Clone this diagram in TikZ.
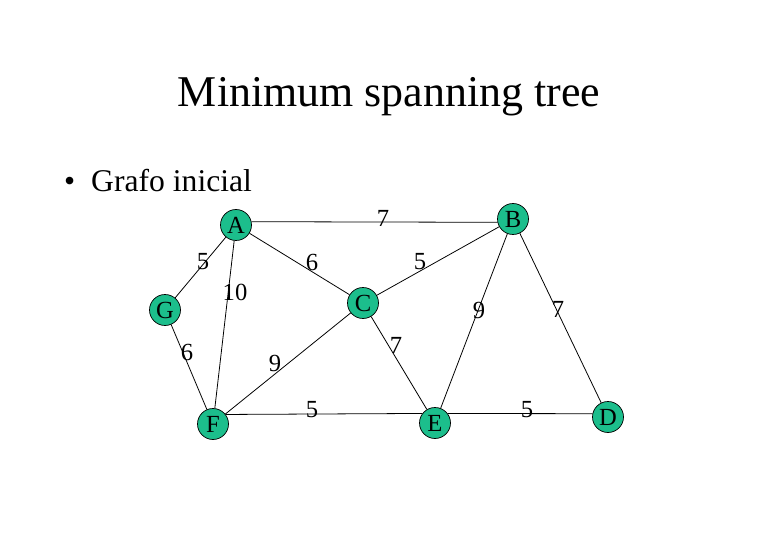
\documentclass[tikz,border=0pt]{standalone}
\usepackage{fontspec}
\setmainfont{Liberation Serif}
\usetikzlibrary{positioning}
\definecolor{vertgreen}{RGB}{28,190,140}

\begin{document}
\begin{tikzpicture}[x=0.02cm,y=-0.02cm,
  vert/.style={circle,draw,fill=vertgreen,minimum size=0.62cm,inner sep=0pt,font=\fontsize{14}{14}\selectfont},
  wt/.style={inner sep=0pt,font=\fontsize{14}{14}\selectfont},
  edge/.style={line width=0.45pt}]
\useasboundingbox (0,0) rectangle (780,540);
\node[font=\fontsize{25}{30}\selectfont] (title) at (389,97) {Minimum spanning tree};
\node[anchor=west,font=\fontsize{18}{22}\selectfont] (item) at (58,181) {\textbullet\hspace{0.32cm}Grafo inicial};
% vertices
\node[vert] (A) at (236,225) {A};
\node[vert] (B) at (513,219) {B};
\node[vert] (C) at (363,303) {C};
\node[vert] (G) at (165,310) {G};
\node[vert] (F) at (213,424) {F};
\node[vert] (E) at (435,423) {E};
\node[vert] (D) at (608,417) {D};
% edges
\draw[edge] (A.12)--(B.192);\draw[edge] (A)--(G);\draw[edge] (A)--(F);\draw[edge] (A)--(C);
\draw[edge] (C)--(B);\draw[edge] (B)--(E);\draw[edge] (B)--(D);\draw[edge] (C)--(E);
\draw[edge] (C)--(F);\draw[edge] (G)--(F);\draw[edge] (F.37)--(E.143);\draw[edge] (E.37)--(D.168);
% weights
\node[wt] (wAB) at (383,218) {7};
\node[wt] (wAG) at (203,262) {5};
\node[wt] (wAF) at (235,292) {10};
\node[wt] (wAC) at (312,262) {6};
\node[wt] (wCB) at (420,262) {5};
\node[wt] (wBE) at (479,310) {9};
\node[wt] (wBD) at (558,309) {7};
\node[wt] (wCE) at (396,345) {7};
\node[wt] (wED) at (527,410) {5};
\node[wt] (wGF) at (187,352) {6};
\node[wt] (wCF) at (275,363) {9};
\node[wt] (wFE) at (312,410) {5};
\end{tikzpicture}
\end{document}
